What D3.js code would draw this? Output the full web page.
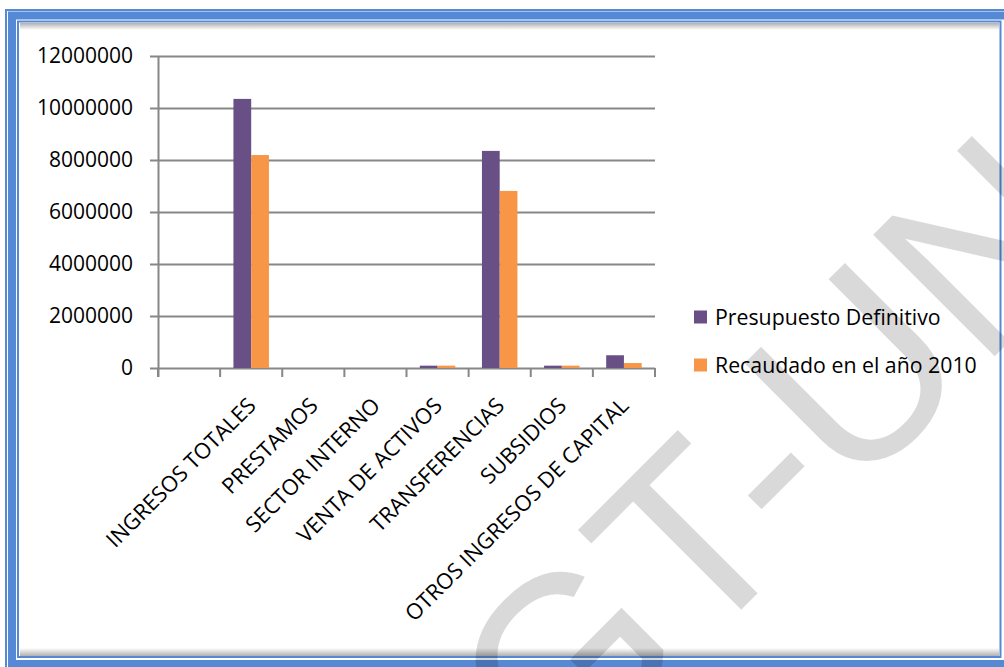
<!DOCTYPE html>
<html>
<head>
<meta charset="utf-8">
<script src="https://cdn.jsdelivr.net/npm/d3@7"></script>
<style>
html,body{margin:0;padding:0;background:#fff;}
svg{display:block;}
</style>
</head>
<body>
<svg id="chart" width="1004" height="667"></svg>
<script>
const categories = ["", "INGRESOS TOTALES", "PRESTAMOS", "SECTOR INTERNO", "VENTA DE ACTIVOS", "TRANSFERENCIAS", "SUBSIDIOS", "OTROS INGRESOS DE CAPITAL"];
const seriesNames = ["Presupuesto Definitivo", "Recaudado en el año 2010"];
const presupuesto = [0, 10350000, 0, 0, 90000, 8350000, 90000, 490000];
const recaudado = [0, 8190000, 0, 0, 90000, 6810000, 90000, 190000];
const yTicks = [0, 2000000, 4000000, 6000000, 8000000, 10000000, 12000000];
const colors = ["#684f86", "#f79646"];

const svg = d3.select("#chart");
const W = 1004, H = 667;
const blue = "#5589d5";
const font = "'Open Sans', sans-serif";

// background
svg.append("rect").attr("width", W).attr("height", H).attr("fill", "#fff");

const defs = svg.append("defs");
const gTop = defs.append("linearGradient").attr("id", "shTop").attr("x1", 0).attr("y1", 0).attr("x2", 0).attr("y2", 1);
gTop.append("stop").attr("offset", "0%").attr("stop-color", "#b0b0b0");
gTop.append("stop").attr("offset", "100%").attr("stop-color", "#ffffff");
const gBot = defs.append("linearGradient").attr("id", "shBot").attr("x1", 0).attr("y1", 0).attr("x2", 0).attr("y2", 1);
gBot.append("stop").attr("offset", "0%").attr("stop-color", "#ffffff");
gBot.append("stop").attr("offset", "100%").attr("stop-color", "#b0b0b0");

// shadows of the chart area
svg.append("rect").attr("x", 20).attr("y", 23).attr("width", 979).attr("height", 7).attr("fill", "url(#shTop)");
svg.append("rect").attr("x", 20).attr("y", 648).attr("width", 979).attr("height", 8).attr("fill", "url(#shBot)");

// frame
svg.append("rect").attr("x", 6).attr("y", 10).attr("width", 1100).attr("height", 1000)
  .attr("fill", "none").attr("stroke", blue).attr("stroke-width", 2);
svg.append("rect").attr("x", 12).attr("y", 15.5).attr("width", 1000).attr("height", 648.5)
  .attr("fill", "none").attr("stroke", blue).attr("stroke-width", 8);
svg.append("rect").attr("x", 18).attr("y", 21.5).attr("width", 982.5).attr("height", 635.5)
  .attr("fill", "none").attr("stroke", blue).attr("stroke-width", 2);

// scales
const x = d3.scaleBand().domain(categories.map((d, i) => i)).range([158, 655]).paddingInner(0).paddingOuter(0);
const xs = d3.scaleBand().domain([0, 1]).range([0, x.bandwidth()]).paddingInner(0).paddingOuter(0.75);
const y = d3.scaleLinear().domain([0, 12000000]).range([368, 56]);

const gridColor = "#878787";

// gridlines + y labels
const gy = svg.append("g");
gy.selectAll("line.grid").data(yTicks).join("line")
  .attr("x1", 150).attr("x2", 655)
  .attr("y1", d => Math.round(y(d)) + 0.5).attr("y2", d => Math.round(y(d)) + 0.5)
  .attr("stroke", gridColor).attr("stroke-width", 2);
gy.selectAll("text").data(yTicks).join("text")
  .attr("x", 133).attr("y", d => y(d) + 1)
  .attr("text-anchor", "end").attr("dominant-baseline", "middle")
  .attr("font-family", font).attr("font-size", 21).attr("fill", "#000")
  .text(d => d3.format("d")(d));

// y axis line
svg.append("line").attr("x1", 158.5).attr("x2", 158.5).attr("y1", y(12000000)).attr("y2", 377)
  .attr("stroke", gridColor).attr("stroke-width", 2);

// x ticks at band boundaries
const bounds = categories.map((d, i) => x(i)).concat([x(categories.length - 1) + x.bandwidth()]);
svg.append("g").selectAll("line").data(bounds).join("line")
  .attr("x1", d => d).attr("x2", d => d).attr("y1", y(0)).attr("y2", 377)
  .attr("stroke", gridColor).attr("stroke-width", 2);

// bars
const series = [presupuesto, recaudado];
series.forEach((vals, si) => {
  svg.append("g").selectAll("rect").data(vals).join("rect")
    .attr("x", (d, i) => x(i) + xs(si))
    .attr("width", xs.bandwidth())
    .attr("y", d => y(d))
    .attr("height", d => y(0) - y(d))
    .attr("fill", colors[si]);
});

// x labels
svg.append("g").selectAll("text").data(categories).join("text")
  .attr("transform", (d, i) => `translate(${x(i) + x.bandwidth() / 2 + 6},${407}) rotate(-45)`)
  .attr("text-anchor", "end")
  .attr("font-family", font).attr("font-size", 21.8).attr("fill", "#000")
  .text(d => d);

// legend
const lg = svg.append("g");
seriesNames.forEach((name, i) => {
  const cy = 317 + i * 48;
  lg.append("rect").attr("x", 694).attr("y", cy - 6.5).attr("width", 13).attr("height", 13).attr("fill", colors[i]);
  lg.append("text").attr("x", 715).attr("y", cy + 8)
    .attr("font-family", font).attr("font-size", 21.3).attr("fill", "#000")
    .text(name);
});

// watermark (semi-transparent overlay)
svg.append("text")
  .attr("transform", "translate(558,793) rotate(-45)")
  .attr("font-family", "'Liberation Sans', Arial, sans-serif")
  .attr("font-size", 250)
  .attr("fill", "#000")
  .attr("fill-opacity", 0.15)
  .text("GT-UN");
</script>
</body>
</html>
